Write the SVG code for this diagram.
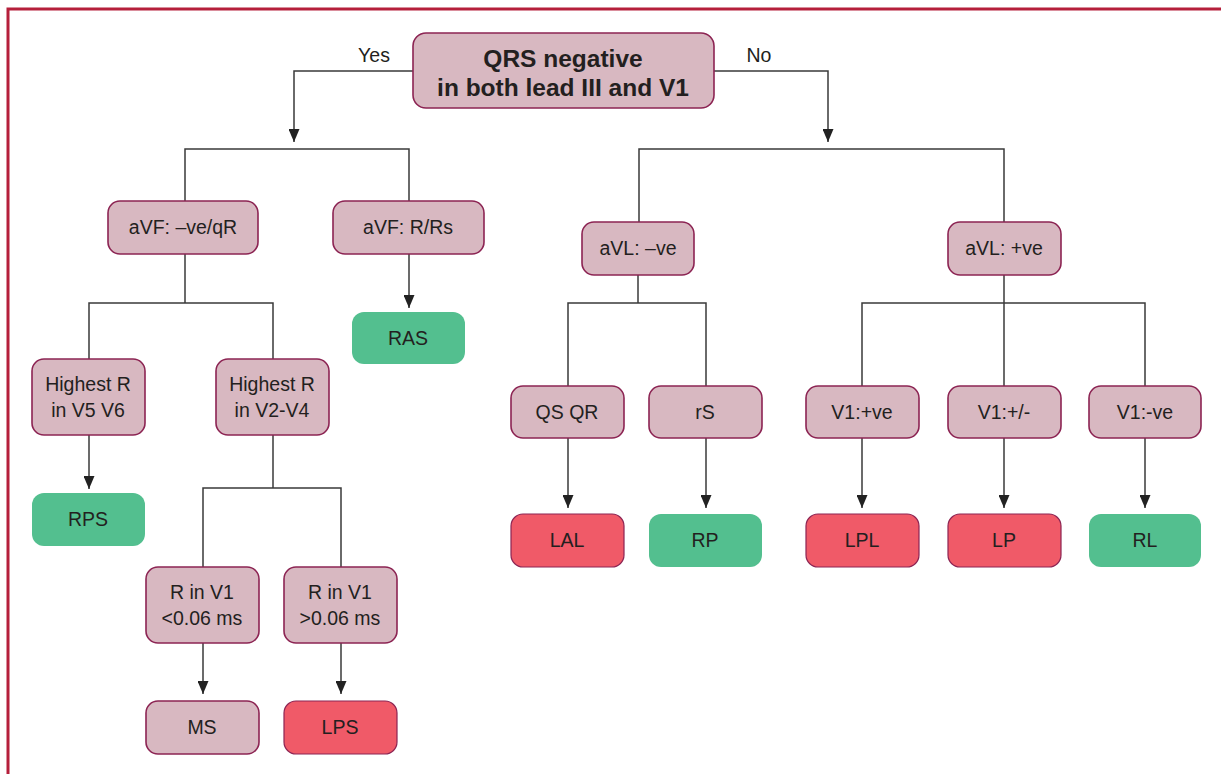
<svg xmlns="http://www.w3.org/2000/svg" width="1221" height="774" viewBox="0 0 1221 774">
<style>
.n{fill:#d8b8c1;stroke:#8c2453;stroke-width:1.6}
.g{fill:#53bf8f;stroke:none}
.r{fill:#f05a68;stroke:#8c2453;stroke-width:1.2}
.t{font-family:"Liberation Sans",Arial,sans-serif;font-size:19.5px;fill:#231f20;text-anchor:middle}
.b{font-family:"Liberation Sans",Arial,sans-serif;font-size:24.5px;font-weight:bold;fill:#231f20;text-anchor:middle}
.c{fill:none;stroke:#3a3a3a;stroke-width:1.5}
</style>
<defs>
<marker id="ah" markerUnits="userSpaceOnUse" markerWidth="13" markerHeight="11" viewBox="0 0 13 11" refX="13" refY="5.5" orient="auto">
<path d="M0,0 L13,5.5 L0,11 z" fill="#222"/>
</marker>
</defs>
<rect width="1221" height="774" fill="#fff"/>
<path d="M8,774 V9 H1221" fill="none" stroke="#b51f3b" stroke-width="3"/>
<g id="connectors">
<path class="c" d="M413,71 H294 V142" marker-end="url(#ah)"/>
<path class="c" d="M714,71 H828 V142" marker-end="url(#ah)"/>
<path class="c" d="M185,201 V149 H409 V201"/>
<path class="c" d="M185,254 V303"/>
<path class="c" d="M89,359 V303 H273 V359"/>
<path class="c" d="M409,254 V308" marker-end="url(#ah)"/>
<path class="c" d="M89,435 V489" marker-end="url(#ah)"/>
<path class="c" d="M273,435 V488"/>
<path class="c" d="M203,567 V488 H341 V567"/>
<path class="c" d="M203,643 V694" marker-end="url(#ah)"/>
<path class="c" d="M341,643 V694" marker-end="url(#ah)"/>
<path class="c" d="M639,222 V149 H1004 V222"/>
<path class="c" d="M638,275 V303"/>
<path class="c" d="M568,386 V303 H706 V386"/>
<path class="c" d="M1004,275 V386"/>
<path class="c" d="M862,386 V303 H1145 V386"/>
<path class="c" d="M568,438 V508" marker-end="url(#ah)"/>
<path class="c" d="M706,438 V508" marker-end="url(#ah)"/>
<path class="c" d="M862,438 V508" marker-end="url(#ah)"/>
<path class="c" d="M1004,438 V508" marker-end="url(#ah)"/>
<path class="c" d="M1145,438 V508" marker-end="url(#ah)"/>
<text class="t" x="374" y="62" font-size="19">Yes</text>
<text class="t" x="759" y="62" font-size="19">No</text>
</g>
<g id="root">
<rect class="n" x="413" y="33" width="301" height="75" rx="13"/>
<text class="b" x="563" y="67">QRS negative</text>
<text class="b" x="563" y="96">in both lead III and V1</text>
</g>
<g id="avf-neg"><rect class="n" x="108" y="201" width="150" height="53" rx="12"/><text class="t" x="183" y="234">aVF: –ve/qR</text></g>
<g id="avf-r"><rect class="n" x="333" y="201" width="151" height="53" rx="12"/><text class="t" x="408" y="234">aVF: R/Rs</text></g>
<g id="ras"><rect class="g" x="352" y="312" width="113" height="52" rx="12"/><text class="t" x="408" y="345">RAS</text></g>
<g id="hr-v56"><rect class="n" x="32" y="359" width="113" height="76" rx="12"/><text class="t" x="88" y="391">Highest R</text><text class="t" x="88" y="417">in V5 V6</text></g>
<g id="hr-v24"><rect class="n" x="216" y="359" width="113" height="76" rx="12"/><text class="t" x="272" y="391">Highest R</text><text class="t" x="272" y="417">in V2-V4</text></g>
<g id="rps"><rect class="g" x="32" y="493" width="113" height="53" rx="12"/><text class="t" x="88" y="526">RPS</text></g>
<g id="rv1-lt"><rect class="n" x="146" y="567" width="113" height="76" rx="12"/><text class="t" x="202" y="599">R in V1</text><text class="t" x="202" y="625">&lt;0.06 ms</text></g>
<g id="rv1-gt"><rect class="n" x="284" y="567" width="113" height="76" rx="12"/><text class="t" x="340" y="599">R in V1</text><text class="t" x="340" y="625">&gt;0.06 ms</text></g>
<g id="ms"><rect class="n" x="146" y="701" width="113" height="53" rx="12"/><text class="t" x="202" y="734">MS</text></g>
<g id="lps"><rect class="r" x="284" y="701" width="113" height="53" rx="12"/><text class="t" x="340" y="734">LPS</text></g>
<g id="avl-neg"><rect class="n" x="582" y="222" width="112" height="53" rx="12"/><text class="t" x="638" y="255">aVL: –ve</text></g>
<g id="avl-pos"><rect class="n" x="948" y="222" width="113" height="53" rx="12"/><text class="t" x="1004" y="255">aVL: +ve</text></g>
<g id="qsqr"><rect class="n" x="511" y="386" width="113" height="52" rx="12"/><text class="t" x="567" y="419">QS QR</text></g>
<g id="rs"><rect class="n" x="649" y="386" width="113" height="52" rx="12"/><text class="t" x="705" y="419">rS</text></g>
<g id="v1-pos"><rect class="n" x="806" y="386" width="113" height="52" rx="12"/><text class="t" x="862" y="419">V1:+ve</text></g>
<g id="v1-pm"><rect class="n" x="948" y="386" width="113" height="52" rx="12"/><text class="t" x="1004" y="419">V1:+/-</text></g>
<g id="v1-neg"><rect class="n" x="1089" y="386" width="112" height="52" rx="12"/><text class="t" x="1145" y="419">V1:-ve</text></g>
<g id="lal"><rect class="r" x="511" y="514" width="113" height="53" rx="12"/><text class="t" x="567" y="547">LAL</text></g>
<g id="rp"><rect class="g" x="649" y="514" width="113" height="53" rx="12"/><text class="t" x="705" y="547">RP</text></g>
<g id="lpl"><rect class="r" x="806" y="514" width="113" height="53" rx="12"/><text class="t" x="862" y="547">LPL</text></g>
<g id="lp"><rect class="r" x="948" y="514" width="113" height="53" rx="12"/><text class="t" x="1004" y="547">LP</text></g>
<g id="rl"><rect class="g" x="1089" y="514" width="112" height="53" rx="12"/><text class="t" x="1145" y="547">RL</text></g>
</svg>
